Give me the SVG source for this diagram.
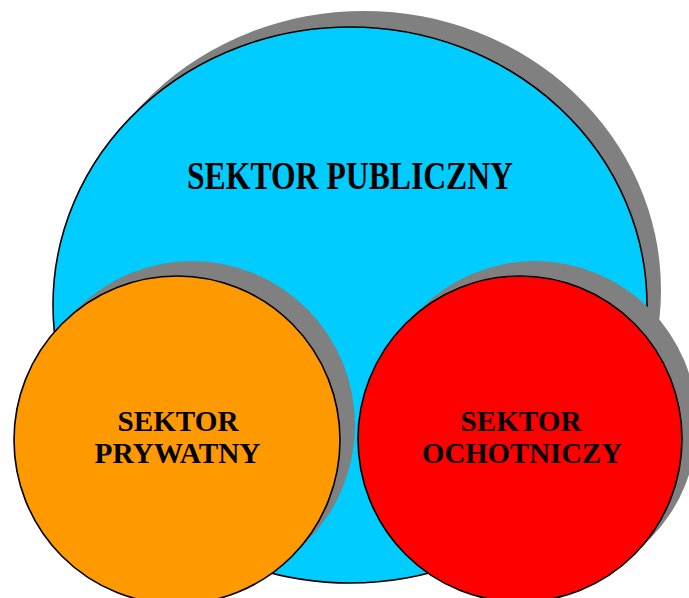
<svg xmlns="http://www.w3.org/2000/svg" width="689" height="598" viewBox="0 0 689 598">
<style>
.sh{fill:#808080;stroke:none}
.c{stroke:#000;stroke-width:1.6}
.t{font-family:"Liberation Serif","Times New Roman",serif;font-weight:bold;fill:#000;text-anchor:middle}
.s{font-size:30px}
</style>
<rect width="689" height="598" fill="#fff"/>
<g id="publiczny">
<ellipse class="sh" cx="364" cy="290" rx="297" ry="279"/>
<ellipse class="c" cx="350" cy="305" rx="297" ry="278" fill="#00ccff"/>
<text class="t" x="350" y="189" font-size="41" textLength="326" lengthAdjust="spacingAndGlyphs">SEKTOR PUBLICZNY</text>
</g>
<g id="prywatny">
<ellipse class="sh" cx="192" cy="425" rx="163" ry="164"/>
<ellipse class="c" cx="177" cy="440" rx="163" ry="164" fill="#ff9900"/>
<text class="t s" x="178" y="431" textLength="121" lengthAdjust="spacingAndGlyphs">SEKTOR</text>
<text class="t s" x="177.5" y="463" textLength="166" lengthAdjust="spacingAndGlyphs">PRYWATNY</text>
</g>
<g id="ochotniczy">
<ellipse class="sh" cx="535" cy="424" rx="162" ry="163"/>
<ellipse class="c" cx="520" cy="439" rx="162" ry="163" fill="#ff0000"/>
<text class="t s" x="521" y="431" textLength="121" lengthAdjust="spacingAndGlyphs">SEKTOR</text>
<text class="t s" x="522" y="463" textLength="200" lengthAdjust="spacingAndGlyphs">OCHOTNICZY</text>
</g>
<g id="connectors"></g>
</svg>
